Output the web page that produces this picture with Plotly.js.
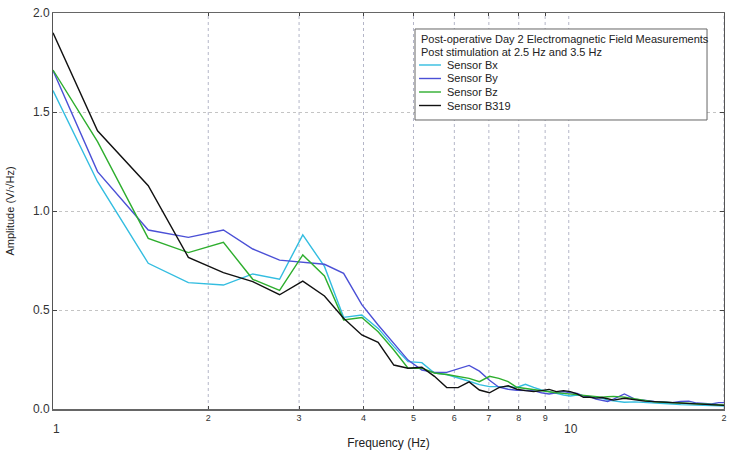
<!DOCTYPE html>
<html>
<head>
<meta charset="utf-8">
<script src="https://cdn.plot.ly/plotly-3.0.1.min.js"></script>
<style>html,body{margin:0;padding:0;background:#fff;}#chart{width:750px;height:450px;}</style>
</head>
<body>
<div id="chart"></div>
<script>
const freq = [1.0, 1.22, 1.53, 1.83, 2.14, 2.44, 2.75, 3.05, 3.36, 3.66, 3.97, 4.27, 4.58, 4.88, 5.19, 5.49, 5.80, 6.10, 6.41, 6.71,
  7.02, 7.32, 7.63, 7.93, 8.24, 8.55, 8.85, 9.16, 9.46, 9.77, 10.07, 10.38, 10.68, 10.99, 11.29, 11.60, 11.90, 12.21, 12.82, 13.43,
  14.04, 14.65, 15.26, 15.87, 16.48, 17.09, 17.70, 18.31, 18.92, 19.53, 20.14];

const sensorBx = [1.608, 1.148, 0.736, 0.638, 0.626, 0.682, 0.655, 0.879, 0.720, 0.463, 0.475, 0.407, 0.315, 0.239, 0.234, 0.182, 0.174, 0.158, 0.140, 0.123,
  0.113, 0.113, 0.113, 0.109, 0.125, 0.109, 0.096, 0.088, 0.079, 0.071, 0.066, 0.071, 0.066, 0.062, 0.059, 0.055, 0.045, 0.040, 0.034, 0.036,
  0.034, 0.030, 0.028, 0.025, 0.022, 0.020, 0.020, 0.018, 0.016, 0.016, 0.015];

const sensorBy = [1.710, 1.199, 0.904, 0.867, 0.904, 0.808, 0.752, 0.741, 0.731, 0.685, 0.527, 0.424, 0.332, 0.247, 0.197, 0.185, 0.185, 0.203, 0.220, 0.191,
  0.145, 0.110, 0.100, 0.095, 0.093, 0.093, 0.082, 0.076, 0.082, 0.088, 0.082, 0.079, 0.066, 0.062, 0.050, 0.045, 0.038, 0.050, 0.076, 0.050,
  0.042, 0.038, 0.035, 0.032, 0.038, 0.040, 0.030, 0.027, 0.025, 0.032, 0.032];

const sensorBz = [1.712, 1.350, 0.862, 0.790, 0.842, 0.655, 0.599, 0.778, 0.672, 0.450, 0.462, 0.390, 0.298, 0.206, 0.206, 0.182, 0.174, 0.166, 0.155, 0.138,
  0.165, 0.155, 0.138, 0.110, 0.104, 0.096, 0.093, 0.088, 0.082, 0.079, 0.076, 0.071, 0.068, 0.066, 0.062, 0.060, 0.062, 0.064, 0.060, 0.052,
  0.042, 0.036, 0.034, 0.032, 0.030, 0.028, 0.028, 0.027, 0.025, 0.022, 0.020];

const sensorB319 = [1.900, 1.405, 1.128, 0.766, 0.689, 0.643, 0.577, 0.646, 0.571, 0.458, 0.374, 0.337, 0.222, 0.206, 0.211, 0.165, 0.108, 0.108, 0.137, 0.096,
  0.082, 0.108, 0.117, 0.100, 0.093, 0.088, 0.093, 0.099, 0.088, 0.093, 0.088, 0.076, 0.059, 0.059, 0.055, 0.058, 0.052, 0.045, 0.054, 0.045,
  0.040, 0.037, 0.035, 0.032, 0.030, 0.029, 0.026, 0.024, 0.022, 0.020, 0.018];

const seriesNames = ["Sensor Bx", "Sensor By", "Sensor Bz", "Sensor B319"];
const seriesColors = ["#33bde0", "#4b50d6", "#2eae2e", "#111111"];
const seriesData = [sensorBx, sensorBy, sensorBz, sensorB319];

const minorTickVals = [2, 3, 4, 5, 6, 7, 8, 9, 20];
const minorTickText = ["2", "3", "4", "5", "6", "7", "8", "9", "2"];
const majorTickVals = [1, 10];
const majorTickText = ["1", "10"];
const gridVals = [2, 3, 4, 5, 6, 7, 8, 9, 10, 20];

const legendTitleLines = ["Post-operative Day 2 Electromagnetic Field Measurements", "Post stimulation at 2.5 Hz and 3.5 Hz"];

const FONT = "Liberation Sans, Arial, sans-serif";

const traces = seriesNames.map((n, i) => ({
  x: freq, y: seriesData[i], name: n, type: "scatter", mode: "lines",
  line: {color: seriesColors[i], width: 1.4}, showlegend: false
}));

// legend box geometry (paper coordinates)
const LG = {x0: 0.5395, x1: 0.9747, y0: 0.7298, y1: 0.9596, textX: 0.5455,
  titleY: 0.9343, lineStep: 0.0335, itemY: 0.8687, itemStep: 0.0341,
  sampleX0: 0.5455, sampleX1: 0.5782, labelX: 0.5842};

const annotations = majorTickVals.map((v, i) => ({
  x: Math.log10(v), xref: "x", y: -0.027, yref: "paper", yanchor: "top", xanchor: "center",
  text: majorTickText[i], showarrow: false, font: {family: FONT, size: 12, color: "#333"}, xshift: i === 0 ? 3 : 2
})).concat(legendTitleLines.map((t, i) => ({
  x: LG.textX, xref: "paper", y: LG.titleY - i * LG.lineStep, yref: "paper",
  xanchor: "left", yanchor: "middle", text: t, showarrow: false,
  font: {family: FONT, size: 11, color: "#222"}
}))).concat(seriesNames.map((n, i) => ({
  x: LG.labelX, xref: "paper", y: LG.itemY - i * LG.itemStep, yref: "paper",
  xanchor: "left", yanchor: "middle", text: n, showarrow: false,
  font: {family: FONT, size: 11, color: "#222"}
})));

const shapes = gridVals.map(v => ({
  type: "line", xref: "x", yref: "paper", x0: v, x1: v, y0: 0, y1: 1,
  line: {color: "#b4b6c8", width: 1, dash: "dot"}, layer: "below"
})).concat([{
  type: "rect", xref: "paper", yref: "paper", x0: LG.x0, x1: LG.x1, y0: LG.y0, y1: LG.y1,
  fillcolor: "#ffffff", line: {color: "#666", width: 1}, layer: "above"
}]).concat(seriesColors.map((c, i) => ({
  type: "line", xref: "paper", yref: "paper", x0: LG.sampleX0, x1: LG.sampleX1,
  y0: LG.itemY - i * LG.itemStep, y1: LG.itemY - i * LG.itemStep,
  line: {color: c, width: 1.4}, layer: "above"
})));

const layout = {
  width: 750, height: 450,
  margin: {l: 53, r: 26, t: 13, b: 41},
  paper_bgcolor: "#fff", plot_bgcolor: "#fff",
  font: {family: FONT, size: 12, color: "#222"},
  showlegend: false,
  xaxis: {
    type: "log", range: [0, Math.log10(20)],
    tickvals: minorTickVals, ticktext: minorTickText,
    tickfont: {size: 9, color: "#333"},
    ticks: "inside", ticklen: 3, tickcolor: "#444",
    showgrid: false, zeroline: false,
    showline: true, linecolor: "#666", linewidth: 1.5, mirror: "ticks",
    title: {text: "Frequency (Hz)", font: {size: 12, color: "#222"}, standoff: 22}
  },
  yaxis: {
    range: [0, 2.0], tickvals: [0, 0.5, 1.0, 1.5, 2.0], tickformat: ".1f",
    tickfont: {size: 12, color: "#333"},
    ticks: "inside", ticklen: 4, tickcolor: "#444",
    showgrid: true, gridcolor: "#c4c4c4", griddash: "dot", gridwidth: 1,
    zeroline: false,
    showline: true, linecolor: "#555", linewidth: 1, mirror: "ticks",
    title: {text: "Amplitude (V/√Hz)", font: {size: 11, color: "#222"}, standoff: 16}
  },
  shapes: shapes,
  annotations: annotations
};

Plotly.newPlot("chart", traces, layout, {displayModeBar: false, staticPlot: true});
</script>
</body>
</html>
